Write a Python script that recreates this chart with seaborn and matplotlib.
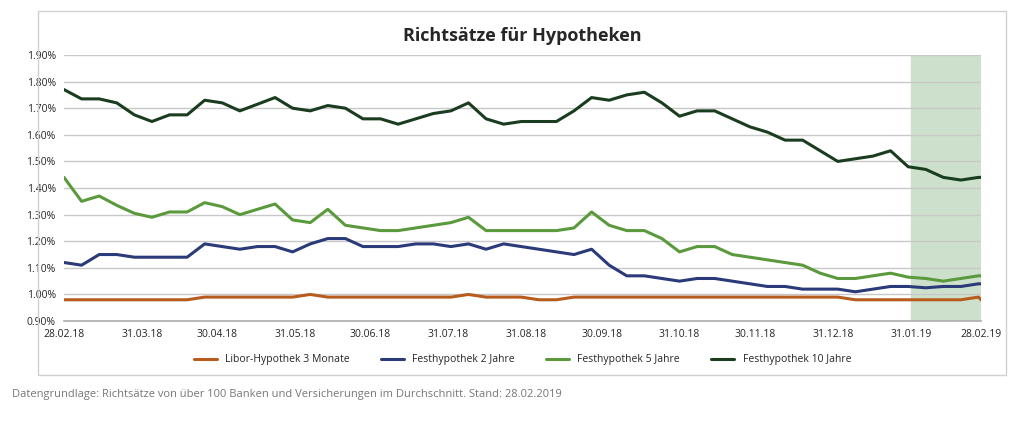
import numpy as np
import pandas as pd
import matplotlib
matplotlib.use("Agg")
import matplotlib.pyplot as plt
from matplotlib.patches import Rectangle
import seaborn as sns

dates = list(pd.date_range("2018-02-28", periods=53, freq="7D")) + [pd.Timestamp("2019-02-28")]

libor = [0.98]*8 + [0.99]*6 + [1.00] + [0.99]*8 + [1.00] + [0.99]*3 + [0.98]*2 + [0.99]*16 + [0.98]*7 + [0.99, 0.98]
fest2 = [1.12,1.11,1.15,1.15,1.14,1.14,1.14,1.14,1.19,1.18,1.17,1.18,1.18,1.16,1.19,1.21,1.21,1.18,1.18,1.18,
         1.19,1.19,1.18,1.19,1.17,1.19,1.18,1.17,1.16,1.15,1.17,1.11,1.07,1.07,1.06,1.05,1.06,1.06,1.05,1.04,
         1.03,1.03,1.02,1.02,1.02,1.01,1.02,1.03,1.03,1.025,1.03,1.03,1.04,1.04]
fest5 = [1.44,1.35,1.37,1.335,1.305,1.29,1.31,1.31,1.345,1.33,1.30,1.32,1.34,1.28,1.27,1.32,1.26,1.25,1.24,1.24,
         1.25,1.26,1.27,1.29,1.24,1.24,1.24,1.24,1.24,1.25,1.31,1.26,1.24,1.24,1.21,1.16,1.18,1.18,1.15,1.14,
         1.13,1.12,1.11,1.08,1.06,1.06,1.07,1.08,1.065,1.06,1.05,1.06,1.07,1.07]
fest10 = [1.77,1.735,1.735,1.72,1.675,1.65,1.675,1.675,1.73,1.72,1.69,1.715,1.74,1.70,1.69,1.71,1.70,1.66,1.66,1.64,
          1.66,1.68,1.69,1.72,1.66,1.64,1.65,1.65,1.65,1.69,1.74,1.73,1.75,1.76,1.72,1.67,1.69,1.69,1.66,1.63,
          1.61,1.58,1.58,1.54,1.50,1.51,1.52,1.54,1.48,1.47,1.44,1.43,1.44,1.44]
names = ["Libor-Hypothek 3 Monate", "Festhypothek 2 Jahre", "Festhypothek 5 Jahre", "Festhypothek 10 Jahre"]
colors = ["#b85c1e", "#2b3a78", "#5a9a3c", "#1a3d1f"]
tick_dates = ["2018-02-28","2018-03-31","2018-04-30","2018-05-31","2018-06-30","2018-07-31","2018-08-31",
              "2018-09-30","2018-10-31","2018-11-30","2018-12-31","2019-01-31","2019-02-28"]

df = pd.concat([pd.DataFrame({"Datum": dates, "Wert": v, "Serie": n})
                for n, v in zip(names, [libor, fest2, fest5, fest10])])

sns.set_theme(style="white")
plt.rcParams['font.family'] = ['Open Sans', 'DejaVu Sans']
fig = plt.figure(figsize=(10.24, 4.23), dpi=100)
ax = fig.add_axes([0.0625, 0.241, 0.8955, 0.629])

ax.axvspan(pd.Timestamp("2019-01-31"), pd.Timestamp("2019-02-28"), color="#cde0cc", zorder=0)
sns.lineplot(data=df, x="Datum", y="Wert", hue="Serie", palette=colors, linewidth=2.2, ax=ax, legend=True)

ax.set_ylim(0.9, 1.9)
ax.set_yticks(np.arange(0.9, 1.91, 0.1))
ax.set_yticklabels([f"{v:.2f}%" for v in np.arange(0.9, 1.91, 0.1)], fontsize=7.5)
ax.set_xlim(pd.Timestamp("2018-02-28"), pd.Timestamp("2019-02-28"))
td = pd.to_datetime(tick_dates)
ax.set_xticks(td)
ax.set_xticklabels([d.strftime("%d.%m.%y") for d in td], fontsize=7.5)
ax.grid(axis="y", color="#c8c8c8", linewidth=1)
ax.set_axisbelow(True)
for s in ["top", "right", "left"]:
    ax.spines[s].set_visible(False)
ax.spines["bottom"].set_color("#b0b0b0")
ax.tick_params(axis="x", length=4, color="#b0b0b0", pad=2)
ax.tick_params(axis="y", length=0, pad=6)
ax.set_xlabel("")
ax.set_ylabel("")
ax.set_title("Richtsätze für Hypotheken", fontsize=13, fontweight="bold", pad=10)

leg = ax.legend(loc="upper center", bbox_to_anchor=(0.5, -0.09), ncol=4, frameon=False,
                fontsize=7.5, handlelength=2.2, columnspacing=3)

fig.add_artist(Rectangle((0.037, 0.113), 0.945, 0.86, transform=fig.transFigure,
                         fill=False, edgecolor="#d0d0d0", linewidth=1))
fig.text(0.012, 0.062, "Datengrundlage: Richtsätze von über 100 Banken und Versicherungen im Durchschnitt. Stand: 28.02.2019",
         fontsize=8, color="#777777")
fig.savefig("out.png", dpi=100)
